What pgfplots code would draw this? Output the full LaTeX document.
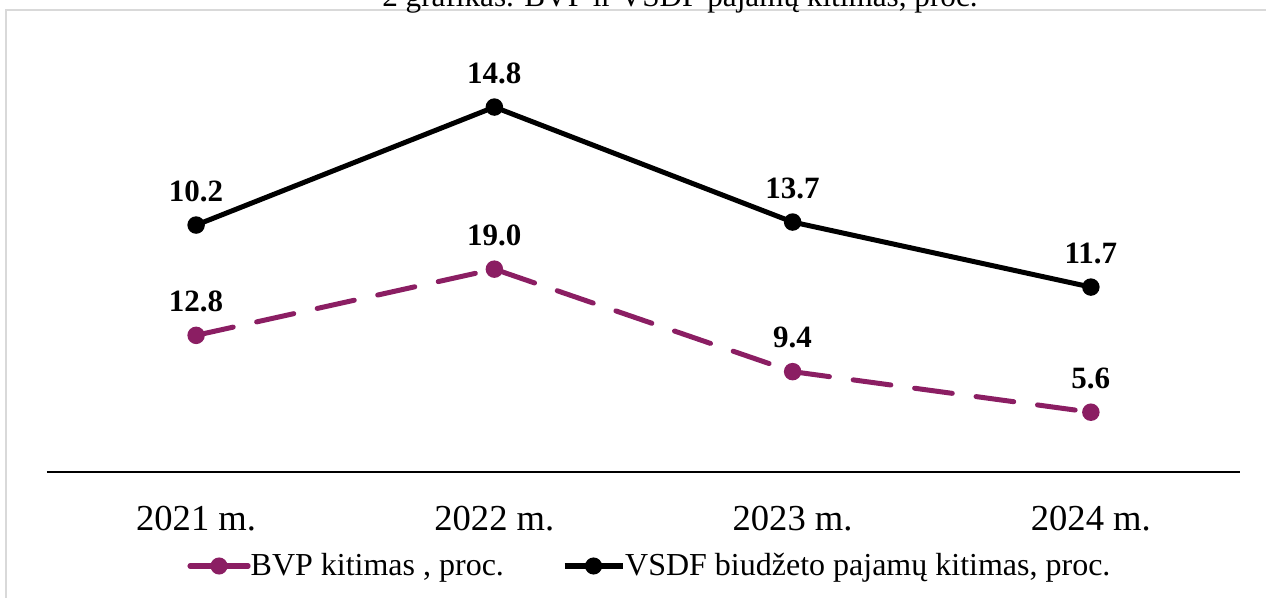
\documentclass[border=0pt]{standalone}
\usepackage{fontspec}
\setmainfont{Liberation Serif}
\usepackage{pgfplots}
\pgfplotsset{compat=1.18}
\definecolor{bvp}{RGB}{139,30,99}
\definecolor{framegray}{RGB}{217,217,217}
\begin{document}
\begin{tikzpicture}
\useasboundingbox (0,0) rectangle (633pt,299pt);
\draw[framegray, line width=1pt] (3pt,-5pt) -- (3pt,294pt) -- (640pt,294pt);
\node[anchor=base, font=\fontsize{15.6}{18}\selectfont, inner sep=0pt] at (340pt,295.5pt) {2 grafikas. BVP ir VSDF pajamų kitimas, proc.};
\begin{axis}[
  at={(23.5pt,63pt)}, anchor=south west,
  scale only axis, width=596.5pt, height=221pt,
  xmin=-0.5, xmax=3.5, ymin=0, ymax=41.4,
  axis y line=none, axis x line*=bottom,
  x axis line style={black, line width=1pt},
  xtick={0,1,2,3}, xticklabels={2021 m.,2022 m.,2023 m.,2024 m.},
  major tick length=0pt,
  x tick label style={font=\fontsize{18.3}{22}\selectfont, anchor=base, yshift=-29.5pt},
  clip=false,
  point meta=explicit symbolic,
  nodes near coords,
  every node near coord/.append style={font=\bfseries\fontsize{15.5}{18}\selectfont, anchor=base, yshift=12pt, text=black, inner sep=0pt},
  legend style={at={(rel axis cs:0.1174,-0.2127)}, anchor=west, draw=none, fill=none,
    font=\fontsize{16}{19}\selectfont, inner sep=0pt, nodes={inner sep=0pt},
    /tikz/every even column/.append style={column sep=29pt}},
  legend columns=2,
  legend cell align=left,
  legend image code/.code={\draw[#1,solid,line width=2.6pt] (0pt,0pt) -- (29pt,0pt); \fill[#1,solid] (14.5pt,0pt) circle (3pt);},
]
\addplot[bvp, line width=2.5pt, dash pattern=on 19pt off 12pt, line cap=round,
  mark=*, mark size=3.1pt, mark options={solid}] coordinates {
  (0,12.8) [12.8]
  (1,19.0) [19.0]
  (2,9.4) [9.4]
  (3,5.6) [5.6]
};
\addlegendentry{BVP kitimas , proc.}
\addplot[black, line width=2.5pt, mark=*, mark size=3.1pt] coordinates {
  (0,23.13) [10.2]
  (1,34.18) [14.8]
  (2,23.41) [13.7]
  (3,17.32) [11.7]
};
\addlegendentry{VSDF biudžeto pajamų kitimas, proc.}
\end{axis}
\end{tikzpicture}
\end{document}
